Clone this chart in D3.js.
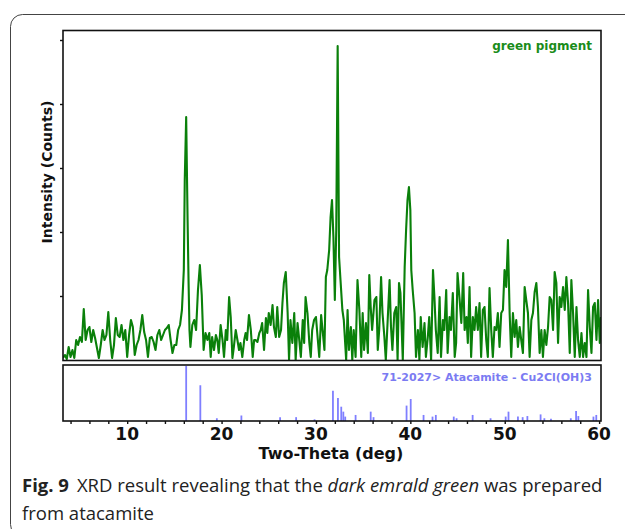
<!DOCTYPE html>
<html>
<head>
<meta charset="utf-8">
<script src="https://cdn.jsdelivr.net/npm/d3@7"></script>
<style>
  body { margin: 0; background: #fff; }
  svg { display: block; font-family: "DejaVu Sans", sans-serif; }
  .caption { font-family: "Open Sans", sans-serif; }
</style>
</head>
<body>
<div id="chart"></div>
<script>
// measured pattern of the green pigment: [2theta (deg), counts]
const greenPattern = [
  [3.2,20],[3.4,50],[3.6,10],[3.8,130],[4.0,30],[4.2,100],[4.4,20],[4.6,200],[4.8,150],[5.0,230],
  [5.2,180],[5.4,510],[5.6,200],[5.8,300],[6.0,330],[6.2,180],[6.4,300],[6.6,220],[6.8,120],[7.0,20],
  [7.2,150],[7.4,300],[7.6,200],[7.8,250],[8.0,480],[8.2,200],[8.4,20],[8.6,150],[8.8,420],[9.0,250],
  [9.2,230],[9.4,350],[9.6,200],[9.8,300],[10.0,30],[10.2,250],[10.4,400],[10.6,330],[10.8,50],[11.0,150],
  [11.2,200],[11.4,300],[11.6,450],[11.8,280],[12.0,200],[12.2,30],[12.4,220],[12.6,230],[12.8,180],[13.0,100],
  [13.2,250],[13.4,300],[13.6,200],[13.8,250],[14.0,300],[14.2,320],[14.4,350],[14.6,200],[14.8,70],[15.0,150],
  [15.2,150],[15.4,300],[15.6,350],[15.8,500],[16.0,900],[16.1,1800],[16.25,2430],[16.4,1400],[16.5,800],[16.6,300],
  [16.7,130],[16.9,350],[17.1,400],[17.3,300],[17.5,700],[17.7,950],[17.9,650],[18.1,100],[18.3,270],
  [18.5,200],[18.7,270],[18.85,30],[19.0,230],[19.2,100],[19.4,250],[19.55,200],[19.7,70],[19.9,350],[20.1,200],
  [20.26,30],[20.45,300],[20.6,200],[20.8,630],[20.97,430],[21.15,20],[21.3,130],[21.5,300],[21.68,200],[21.85,100],
  [22.0,170],[22.2,30],[22.4,200],[22.55,270],[22.7,200],[22.9,450],[23.1,300],[23.3,30],[23.45,200],[23.6,200],
  [23.8,180],[24.0,270],[24.15,300],[24.3,370],[24.5,100],[24.7,420],[24.85,270],[25.0,470],[25.2,350],[25.4,550],
  [25.55,330],[25.75,230],[25.9,530],[26.1,230],[26.3,300],[26.45,570],[26.6,770],[26.8,880],[27.0,470],[27.15,0],
  [27.3,400],[27.5,170],[27.7,470],[27.85,0],[28.05,370],[28.2,230],[28.4,30],[28.6,400],[28.75,170],[28.9,630],
  [29.1,470],[29.3,170],[29.45,30],[29.6,300],[29.8,400],[30.0,430],[30.2,200],[30.35,30],[30.55,450],[30.7,300],
  [30.9,100],[31.05,830],[31.2,900],[31.4,1100],[31.55,1430],[31.7,1600],[31.85,1230],[32.0,600],[32.15,1300],[32.3,3140],
  [32.45,1030],[32.6,800],[32.8,500],[32.95,400],[33.2,0],[33.35,500],[33.5,100],[33.7,330],[33.85,0],[34.0,300],
  [34.2,30],[34.4,800],[34.6,500],[34.8,30],[34.95,470],[35.1,100],[35.3,370],[35.5,70],[35.65,850],[35.8,530],
  [35.95,300],[36.2,600],[36.4,630],[36.55,100],[36.7,300],[36.9,830],[37.05,470],[37.25,230],[37.4,0],[37.6,400],
  [37.8,800],[37.95,330],[38.1,100],[38.3,470],[38.5,530],[38.65,0],[38.8,770],[38.95,670],[39.2,0],[39.4,930],
  [39.55,1300],[39.7,1600],[39.85,1730],[40.0,1500],[40.1,900],[40.25,700],[40.45,470],[40.6,30],[40.8,300],[40.96,0],
  [41.1,430],[41.3,130],[41.5,370],[41.65,30],[41.85,230],[42.0,430],[42.2,0],[42.4,900],[42.55,630],[42.7,300],
  [42.9,70],[43.1,630],[43.25,30],[43.45,400],[43.6,300],[43.8,700],[43.95,70],[44.15,430],[44.3,300],[44.5,670],
  [44.7,30],[44.85,170],[45.0,870],[45.2,630],[45.4,370],[45.6,870],[45.75,300],[45.95,430],
  [46.09,170],[46.27,730],[46.44,30],[46.62,430],[46.8,300],[46.97,530],[47.15,300],[47.33,570],[47.5,30],[47.68,500],
  [47.86,530],[48.04,200],[48.21,30],[48.39,720],[48.57,300],[48.74,30],[48.92,330],[49.1,300],[49.27,470],[49.45,130],
  [49.63,470],[49.81,500],[49.98,900],[50.16,730],[50.34,1200],[50.52,470],[50.69,30],[50.87,470],[51.05,230],[51.22,400],
  [51.4,130],[51.58,330],[51.75,200],[51.93,70],[52.11,730],[52.28,600],[52.46,470],[52.64,30],[52.82,400],[52.99,470],
  [53.17,680],[53.35,770],[53.52,530],[53.7,70],[53.88,300],[54.05,30],[54.23,300],[54.41,150],[54.59,330],[54.76,630],
  [54.94,600],[55.12,300],[55.29,880],[55.47,770],[55.65,170],[55.82,630],[56.0,530],[56.18,730],[56.36,500],[56.53,830],
  [56.71,570],[56.89,70],[57.06,800],[57.24,470],[57.42,30],[57.6,530],[57.77,200],[57.95,30],[58.13,270],[58.3,30],
  [58.48,170],[58.66,30],[58.83,700],[59.01,330],[59.19,70],[59.36,530],[59.54,570],[59.72,200],[59.89,600],[60.07,170],
  [60.2,430]
];

// reference card 71-2027 atacamite: [2theta (deg), relative intensity %]
const atacamiteLines = [
  [16.25,100],[17.75,65],[19.5,5],[22.1,10],[26.2,7],[27.9,7],[29.85,3],[31.8,55],[32.33,42],[32.68,26],
  [32.9,17],[33.1,8],[34.2,11],[35.8,17],[36.1,7],[39.6,28],[40.04,40],[41.4,11],[42.35,8],[42.7,11],
  [44.6,8],[44.9,5],[46.6,11],[48.5,5],[50.1,8],[50.4,17],[51.4,8],[51.9,7],[52.4,9],[53.8,12],
  [54.2,5],[54.9,4],[57.0,5],[57.56,18],[57.8,9],[59.4,8],[59.7,11]
];

const intensityTicks = [640, 1280, 1920, 2560, 3200];
const thetaMinorTicks = d3.range(4, 61, 2);
const thetaLabels = [10, 20, 30, 40, 50, 60];

const W = 625, H = 529;
const svg = d3.select("#chart").append("svg")
    .attr("width", W)
    .attr("height", H);

// figure card outline
svg.append("rect")
    .attr("x", 10.5).attr("y", 14.5)
    .attr("width", 640).attr("height", 522)
    .attr("rx", 12)
    .attr("fill", "none")
    .attr("stroke", "#444")
    .attr("stroke-width", 1);

const x = d3.scaleLinear().domain([3.2, 60.2]).range([63, 601]);
const y = d3.scaleLinear().domain([0, 3300]).range([360, 30]);
const yRef = d3.scaleLinear().domain([0, 100]).range([421, 366]);

// clip for the measured trace
svg.append("clipPath").attr("id", "clipTop")
    .append("rect").attr("x", 63).attr("y", 30).attr("width", 538).attr("height", 331);

svg.append("path")
    .datum(greenPattern)
    .attr("clip-path", "url(#clipTop)")
    .attr("fill", "none")
    .attr("stroke", "#0a800a")
    .attr("stroke-width", 2.1)
    .attr("stroke-linejoin", "round")
    .attr("d", d3.line().x(d => x(d[0])).y(d => y(d[1])));

// top panel frame
svg.append("rect")
    .attr("x", 63).attr("y", 30.5)
    .attr("width", 538).attr("height", 330)
    .attr("fill", "none")
    .attr("stroke", "#111")
    .attr("stroke-width", 1.6);

// left ticks (unlabelled)
svg.append("g")
    .attr("transform", "translate(63,0)")
    .call(d3.axisLeft(y).tickValues(intensityTicks).tickSize(3).tickFormat(""))
    .call(g => g.select(".domain").remove())
    .selectAll("line").attr("stroke", "#111").attr("stroke-width", 1.4);

svg.append("text")
    .attr("x", 592).attr("y", 50)
    .attr("text-anchor", "end")
    .attr("fill", "#1a8c1a")
    .attr("font-weight", 700)
    .attr("font-size", 12)
    .text("green pigment");

// reference stick pattern
svg.append("g")
    .selectAll("line")
    .data(atacamiteLines)
    .join("line")
    .attr("x1", d => x(d[0])).attr("x2", d => x(d[0]))
    .attr("y1", yRef(0)).attr("y2", d => yRef(d[1]))
    .attr("stroke", "#7f7fff")
    .attr("stroke-width", 1.8);

svg.append("rect")
    .attr("x", 63).attr("y", 365)
    .attr("width", 538).attr("height", 56)
    .attr("fill", "none")
    .attr("stroke", "#111")
    .attr("stroke-width", 1.6);

svg.append("text")
    .attr("x", 592).attr("y", 381)
    .attr("text-anchor", "end")
    .attr("fill", "#7b7bf2")
    .attr("font-weight", 700)
    .attr("font-size", 11)
    .text("71-2027> Atacamite - Cu2Cl(OH)3");

// bottom axis
const xAxis = svg.append("g")
    .attr("transform", "translate(0,421)");
xAxis.call(d3.axisBottom(x).tickValues(thetaMinorTicks).tickSize(3).tickFormat(""))
    .call(g => g.select(".domain").remove())
    .selectAll("line").attr("stroke", "#111").attr("stroke-width", 1.4);

svg.append("g")
    .selectAll("text")
    .data(thetaLabels)
    .join("text")
    .attr("x", d => x(d))
    .attr("y", 440)
    .attr("text-anchor", "middle")
    .attr("font-weight", 700)
    .attr("font-size", 17)
    .attr("fill", "#111")
    .text(d => d);

svg.append("text")
    .attr("x", 331).attr("y", 459)
    .attr("text-anchor", "middle")
    .attr("font-weight", 700)
    .attr("font-size", 16)
    .attr("fill", "#111")
    .text("Two-Theta (deg)");

svg.append("text")
    .attr("transform", "translate(52,172) rotate(-90)")
    .attr("text-anchor", "middle")
    .attr("font-weight", 700)
    .attr("font-size", 14)
    .attr("fill", "#111")
    .text("Intensity (Counts)");

// caption
const cap = svg.append("text")
    .attr("class", "caption")
    .attr("x", 22).attr("y", 492)
    .attr("font-size", 18.5)
    .attr("fill", "#222");
cap.append("tspan").attr("font-weight", 700).text("Fig. 9");
cap.append("tspan").attr("dx", 8).text("XRD result revealing that the ");
cap.append("tspan").attr("font-style", "italic").text("dark emrald green");
cap.append("tspan").text(" was prepared");

svg.append("text")
    .attr("class", "caption")
    .attr("x", 22).attr("y", 520)
    .attr("font-size", 18.5)
    .attr("fill", "#222")
    .text("from atacamite");
</script>
</body>
</html>
